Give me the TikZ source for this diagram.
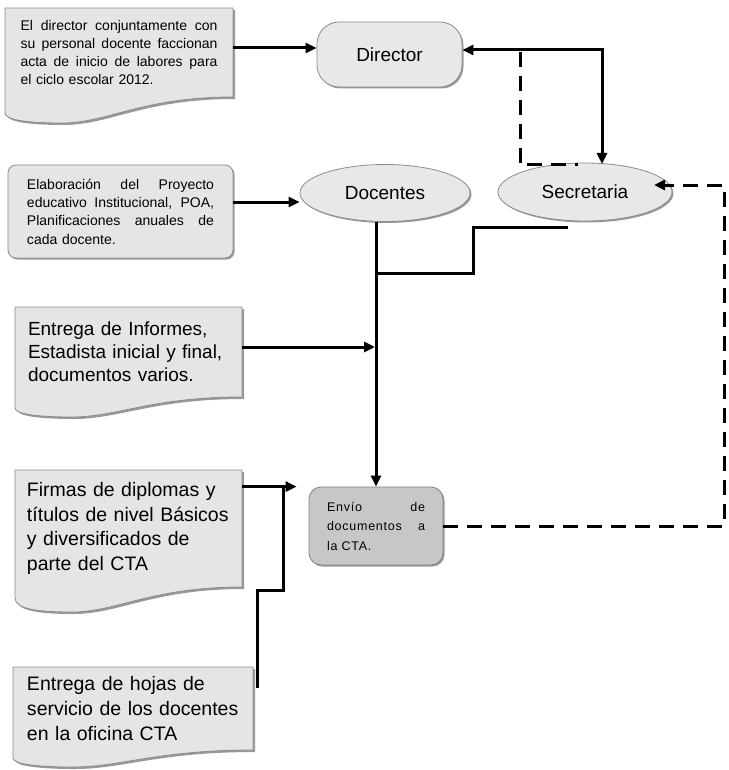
\documentclass[tikz,border=0pt]{standalone}
\usepackage{fontspec}
\setmainfont{Liberation Sans}
\usetikzlibrary{arrows.meta,shapes.geometric,calc,shadows}
\newcommand\mydoc[6]{%
  \path[fill=black!40] ({#1+2},{#2+2}) -- ({#3+2},{#2+2}) -- ({#3+2},{#4+2})
    .. controls ({#1+2+0.6*(#3-#1)},{#4+2}) and ({#1+2+0.45*(#3-#1)},{#5+2}) .. ({#1+2+0.25*(#3-#1)},{#5+2})
    .. controls ({#1+2+0.1*(#3-#1)},{#5+2}) and ({#1+2},{#5-1}) .. ({#1+2},{#6+2}) -- cycle;
  \path[docfill] (#1,#2) -- (#3,#2) -- (#3,#4)
    .. controls ({#1+0.6*(#3-#1)},#4) and ({#1+0.45*(#3-#1)},#5) .. ({#1+0.25*(#3-#1)},#5)
    .. controls ({#1+0.1*(#3-#1)},#5) and (#1,{#5-3}) .. (#1,#6) -- cycle;}
\newcommand\jline[2]{\makebox[#1][s]{\spaceskip=0pt\xspaceskip=0pt\relax #2}}
\begin{document}
\begin{tikzpicture}[x=1pt,y=-1pt,
  tipa/.tip={Triangle[length=11pt,width=10pt]},
  conn/.style={line width=3pt},
  arr/.style={conn,-tipa},
  dconn/.style={line width=3pt,dash pattern=on 15pt off 9pt},
  docfill/.style={fill=black!10,draw=black!45,line width=0.8pt},
  doctext/.style={inner sep=0pt,align=left},
  shad/.style={drop shadow={shadow xshift=1.5pt,shadow yshift=-1.5pt,fill=black!40,opacity=1}},
  ell/.style={ellipse,fill=black!9,draw=black!45,line width=0.8pt,shad,inner sep=0pt,font=\fontsize{19}{22}\selectfont},
  dirbox/.style={rectangle,rounded corners=22pt,fill=black!9,draw=black!45,line width=0.8pt,shad,inner sep=0pt,font=\fontsize{19}{22}\selectfont},
  envbox/.style={rectangle,rounded corners=12pt,fill=black!22,draw=black!50,line width=0.8pt,shad,inner sep=0pt,align=left,font=\fontsize{12.5}{19.5}\selectfont\addfontfeatures{LetterSpace=6}},
  roundbox/.style={rectangle,rounded corners=8pt,fill=black!10,draw=black!45,line width=0.8pt,shad,inner sep=0pt,align=left}
]
\useasboundingbox (0,0) rectangle (728,770);

% document shapes
\mydoc{5}{8}{233}{97}{123}{113}
\mydoc{15}{307}{242}{397}{417}{408}
\mydoc{15}{470}{242}{587}{612}{598}
\mydoc{13}{667}{253}{750}{767}{758}

% text of document shapes
\node[doctext,minimum width=228pt,minimum height=89pt,text width=197pt,font=\fontsize{14}{18.3}\selectfont] (doc1) at (119,52.5)
 {\jline{197pt}{El director conjuntamente con}\\
  \jline{197pt}{su personal docente faccionan}\\
  \jline{197pt}{acta de inicio de labores para}\\
  el ciclo escolar 2012.};

\node[roundbox,minimum width=225pt,minimum height=93pt,text width=187pt,font=\fontsize{14}{18.3}\selectfont] (doc2) at (120.5,211.5)
 {\jline{187pt}{Elaboración del Proyecto}\\
  \jline{187pt}{educativo Institucional, POA,}\\
  \jline{187pt}{Planificaciones anuales de}\\
  cada docente.};

\node[doctext,minimum width=227pt,minimum height=90pt,text width=201pt,font=\fontsize{19}{23}\selectfont] (doc3) at (128.5,352)
 {Entrega de Informes,\\Estadista inicial y final,\\documentos varios.};

\node[doctext,minimum width=227pt,minimum height=117pt,text width=203pt,font=\fontsize{19.5}{24.5}\selectfont] (doc4) at (128.5,528.5)
 {Firmas de diplomas y\\títulos de nivel Básicos\\y diversificados de\\parte del CTA};

\node[doctext,minimum width=240pt,minimum height=83pt,text width=212pt,font=\fontsize{19.5}{25}\selectfont] (doc5) at (133,708.5)
 {Entrega de hojas de\\servicio de los docentes\\en la oficina CTA};

% main nodes
\node[dirbox,minimum width=145pt,minimum height=65pt] (director) at (389.5,54.5) {Director\hspace{39pt}};
\node[ell,minimum width=170pt,minimum height=57pt] (docentes) at (385,193) {Docentes\hspace{26pt}};
\node[ell,minimum width=174pt,minimum height=58pt] (secretaria) at (585,192) {Secretaria\hspace{14pt}};
\node[envbox,minimum width=134pt,minimum height=78pt,text width=98pt] (envio) at (376,526)
 {\jline{98pt}{Envío de}\\\jline{98pt}{documentos a}\\la CTA.};

% helper coordinates
\coordinate (y48) at (0,48);
\coordinate (y50) at (0,50);
\coordinate (y202) at (0,202);
\coordinate (y347) at (0,347);
\coordinate (sTop) at (602,164);
\coordinate (dA) at (520,52);
\coordinate (dB) at (578,165);
\coordinate (s1) at (568,227);
\coordinate (s2) at (473,273);
\coordinate (t4) at ([xshift=-12pt]envio.north west);
\coordinate (b4) at (283,590);
\coordinate (c5) at ([xshift=4pt,yshift=-21pt]doc5.north east);
\coordinate (rx) at (724,0);
\coordinate (sR) at (654,185);

% connectors
\draw[arr] (doc1.east |- y48) -- (director.west |- y48);
\draw[conn,tipa-tipa] (director.east |- y50) -| (sTop);
\draw[dconn] (dA) |- (dB);
\draw[arr] (doc2.east |- y202) -- (docentes.west |- y202);
\draw[arr] (docentes.south -| envio.north) -- (envio.north);
\draw[conn] (s1) -| (s2) -- (envio.north |- s2);
\draw[arr] (doc3.east |- y347) -- ([xshift=-1pt]envio.north |- y347);
\draw[arr] (doc4.east |- t4) -- (t4);
\draw[conn] (c5) |- (b4) -- (b4 |- t4);
\draw[dconn,-tipa] (envio.east) -| (rx |- sR) -- (sR);
\end{tikzpicture}
\end{document}
